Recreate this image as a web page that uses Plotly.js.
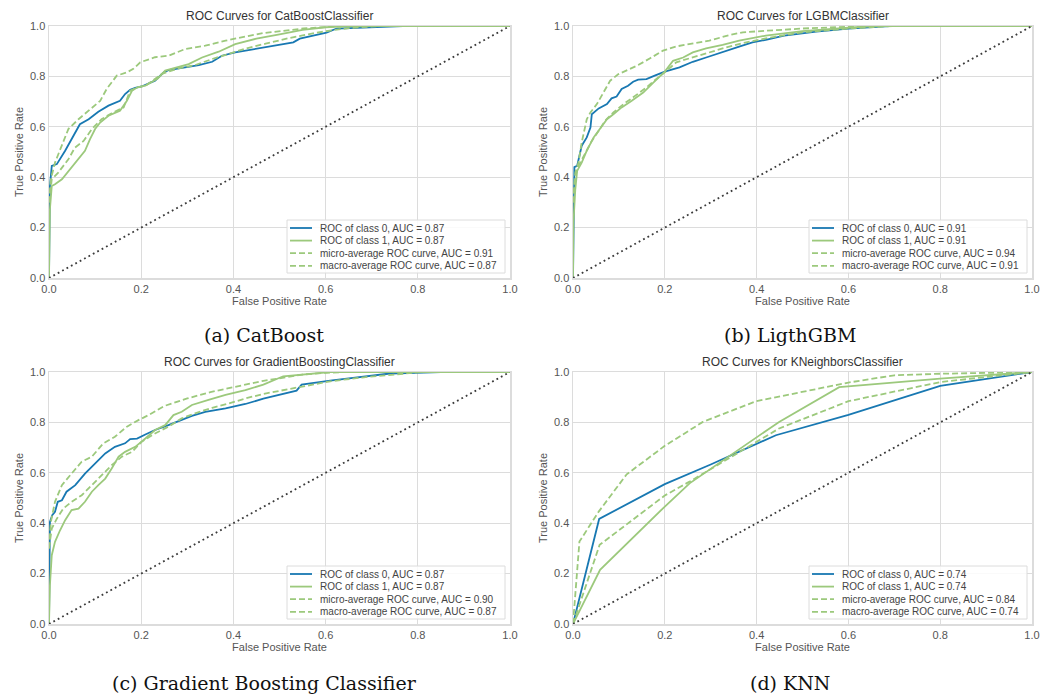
<!DOCTYPE html>
<html><head><meta charset="utf-8">
<script src="https://cdn.plot.ly/plotly-3.0.1.min.js"></script>
<style>html,body{margin:0;padding:0;background:#fff;}#chart{width:1045px;height:698px;}</style>
</head><body><div id="chart"></div>
<script>
// ---------- labels ----------
const plotTitles = ["ROC Curves for CatBoostClassifier", "ROC Curves for LGBMClassifier",
  "ROC Curves for GradientBoostingClassifier", "ROC Curves for KNeighborsClassifier"];
const captions = ["(a) CatBoost", "(b) LigthGBM", "(c) Gradient Boosting Classifier", "(d) KNN"];
const curveNames = ["ROC of class 0", "ROC of class 1", "micro-average ROC curve", "macro-average ROC curve"];
const tickVals = [0, 0.2, 0.4, 0.6, 0.8, 1.0];
const tickText = ["0.0", "0.2", "0.4", "0.6", "0.8", "1.0"];
const diagX = [0, 1];
const diagY = [0, 1];

// ---------- AUC values ----------
const catAuc = [0.87, 0.87, 0.91, 0.87];
const lgbmAuc = [0.91, 0.91, 0.94, 0.91];
const gbAuc = [0.87, 0.87, 0.90, 0.87];
const knnAuc = [0.74, 0.74, 0.84, 0.74];

// ---------- CatBoost ----------
const catC0Fpr = [0, 0.002, 0.006, 0.017, 0.035, 0.056, 0.067, 0.086, 0.107, 0.129, 0.154, 0.165, 0.176, 0.187, 0.201, 0.23, 0.249, 0.259, 0.296, 0.325, 0.354, 0.375, 0.404, 0.465, 0.53, 0.544, 0.602, 0.624, 0.718, 0.768, 1];
const catC0Tpr = [0, 0.365, 0.445, 0.452, 0.505, 0.577, 0.61, 0.63, 0.66, 0.684, 0.703, 0.73, 0.747, 0.754, 0.76, 0.783, 0.816, 0.825, 0.836, 0.845, 0.858, 0.882, 0.895, 0.915, 0.935, 0.95, 0.974, 0.99, 0.997, 1, 1];
const catC1Fpr = [0, 0.002, 0.006, 0.013, 0.028, 0.046, 0.06, 0.078, 0.089, 0.1, 0.111, 0.129, 0.154, 0.169, 0.18, 0.191, 0.209, 0.236, 0.252, 0.277, 0.303, 0.332, 0.368, 0.404, 0.45, 0.5, 0.55, 0.6, 0.65, 1];
const catC1Tpr = [0, 0.273, 0.365, 0.372, 0.392, 0.432, 0.465, 0.505, 0.551, 0.591, 0.617, 0.644, 0.664, 0.703, 0.743, 0.756, 0.763, 0.792, 0.823, 0.836, 0.849, 0.875, 0.898, 0.928, 0.95, 0.967, 0.985, 0.995, 1, 1];
const catMicroFpr = [0, 0.004, 0.013, 0.028, 0.042, 0.064, 0.086, 0.111, 0.125, 0.147, 0.169, 0.183, 0.198, 0.23, 0.259, 0.296, 0.339, 0.383, 0.426, 0.465, 0.552, 0.61, 0.72, 1];
const catMicroTpr = [0.3, 0.392, 0.458, 0.524, 0.591, 0.63, 0.664, 0.703, 0.75, 0.803, 0.816, 0.83, 0.856, 0.876, 0.882, 0.909, 0.922, 0.942, 0.958, 0.972, 0.99, 0.997, 1, 1];
const catMacroFpr = [0, 0.006, 0.02, 0.042, 0.056, 0.075, 0.093, 0.114, 0.136, 0.162, 0.176, 0.191, 0.209, 0.245, 0.281, 0.317, 0.354, 0.39, 0.426, 0.47, 0.52, 0.57, 0.62, 0.67, 0.72, 1];
const catMacroTpr = [0.3, 0.392, 0.418, 0.471, 0.517, 0.544, 0.591, 0.63, 0.654, 0.677, 0.743, 0.756, 0.763, 0.81, 0.832, 0.845, 0.869, 0.889, 0.91, 0.93, 0.952, 0.97, 0.985, 0.995, 1, 1];

// ---------- LGBM ----------
const lgbmC0Fpr = [0, 0.003, 0.009, 0.014, 0.019, 0.03, 0.038, 0.041, 0.056, 0.074, 0.084, 0.095, 0.106, 0.12, 0.131, 0.142, 0.16, 0.178, 0.2, 0.232, 0.261, 0.29, 0.326, 0.362, 0.391, 0.42, 0.46, 0.53, 0.6, 0.69, 1];
const lgbmC0Tpr = [0, 0.44, 0.445, 0.485, 0.525, 0.558, 0.597, 0.65, 0.673, 0.69, 0.713, 0.72, 0.75, 0.763, 0.779, 0.787, 0.789, 0.803, 0.819, 0.836, 0.858, 0.875, 0.898, 0.918, 0.935, 0.945, 0.962, 0.978, 0.99, 1, 1];
const lgbmC1Fpr = [0, 0.001, 0.005, 0.009, 0.019, 0.03, 0.045, 0.059, 0.074, 0.088, 0.106, 0.128, 0.153, 0.175, 0.2, 0.218, 0.24, 0.261, 0.29, 0.326, 0.362, 0.42, 0.5, 0.6, 0.65, 1];
const lgbmC1Tpr = [0, 0.22, 0.352, 0.425, 0.458, 0.505, 0.558, 0.591, 0.63, 0.65, 0.677, 0.703, 0.736, 0.775, 0.819, 0.862, 0.875, 0.895, 0.911, 0.925, 0.942, 0.962, 0.98, 0.993, 1, 1];
const lgbmMicroFpr = [0, 0.005, 0.012, 0.019, 0.03, 0.038, 0.052, 0.066, 0.081, 0.099, 0.124, 0.142, 0.168, 0.196, 0.225, 0.261, 0.297, 0.341, 0.37, 0.42, 0.5, 0.6, 0.7, 1];
const lgbmMicroTpr = [0.3, 0.418, 0.458, 0.538, 0.63, 0.657, 0.69, 0.736, 0.783, 0.809, 0.829, 0.845, 0.872, 0.902, 0.919, 0.932, 0.942, 0.964, 0.975, 0.981, 0.99, 0.997, 1, 1];
const lgbmMacroFpr = [0, 0.005, 0.012, 0.027, 0.041, 0.056, 0.07, 0.088, 0.11, 0.131, 0.16, 0.181, 0.2, 0.225, 0.254, 0.29, 0.326, 0.37, 0.42, 0.5, 0.6, 0.7, 1];
const lgbmMacroTpr = [0.3, 0.405, 0.445, 0.498, 0.544, 0.584, 0.624, 0.657, 0.69, 0.717, 0.756, 0.789, 0.816, 0.856, 0.872, 0.893, 0.911, 0.932, 0.951, 0.975, 0.99, 1, 1];

// ---------- Gradient Boosting ----------
const gbC0Fpr = [0, 0.002, 0.007, 0.013, 0.019, 0.028, 0.038, 0.057, 0.078, 0.1, 0.122, 0.143, 0.165, 0.176, 0.191, 0.209, 0.23, 0.259, 0.288, 0.31, 0.339, 0.383, 0.426, 0.465, 0.537, 0.548, 0.61, 0.683, 0.74, 0.85, 1];
const gbC0Tpr = [0, 0.405, 0.432, 0.445, 0.485, 0.491, 0.525, 0.551, 0.597, 0.637, 0.677, 0.703, 0.717, 0.734, 0.736, 0.752, 0.77, 0.789, 0.809, 0.826, 0.842, 0.856, 0.873, 0.894, 0.926, 0.95, 0.966, 0.983, 0.994, 1, 1];
const gbC1Fpr = [0, 0.002, 0.006, 0.013, 0.024, 0.035, 0.049, 0.064, 0.078, 0.093, 0.107, 0.122, 0.136, 0.151, 0.165, 0.187, 0.209, 0.23, 0.252, 0.27, 0.288, 0.31, 0.346, 0.383, 0.426, 0.465, 0.508, 0.573, 0.61, 1];
const gbC1Tpr = [0, 0.154, 0.273, 0.326, 0.372, 0.412, 0.452, 0.458, 0.485, 0.525, 0.551, 0.577, 0.617, 0.664, 0.683, 0.703, 0.736, 0.77, 0.789, 0.829, 0.842, 0.869, 0.889, 0.909, 0.928, 0.95, 0.983, 0.992, 1, 1];
const gbMicroFpr = [0, 0.004, 0.013, 0.028, 0.049, 0.071, 0.093, 0.118, 0.143, 0.169, 0.194, 0.216, 0.25, 0.3, 0.35, 0.4, 0.426, 0.465, 0.5, 0.55, 0.6, 0.65, 1];
const gbMicroTpr = [0.3, 0.405, 0.485, 0.551, 0.597, 0.644, 0.664, 0.717, 0.743, 0.783, 0.809, 0.829, 0.865, 0.895, 0.92, 0.94, 0.95, 0.965, 0.975, 0.99, 0.997, 1, 1];
const gbMacroFpr = [0, 0.006, 0.017, 0.031, 0.049, 0.071, 0.093, 0.114, 0.136, 0.158, 0.18, 0.201, 0.23, 0.259, 0.288, 0.317, 0.354, 0.39, 0.426, 0.465, 0.537, 0.61, 0.683, 0.755, 0.81, 1];
const gbMacroTpr = [0.3, 0.379, 0.418, 0.458, 0.485, 0.511, 0.551, 0.591, 0.63, 0.664, 0.683, 0.723, 0.756, 0.783, 0.816, 0.836, 0.858, 0.875, 0.895, 0.913, 0.939, 0.963, 0.979, 0.992, 1, 1];

// ---------- KNN ----------
const knnC0Fpr = [0, 0.057, 0.2, 0.3, 0.442, 0.6, 0.8, 1];
const knnC0Tpr = [0, 0.417, 0.555, 0.633, 0.749, 0.83, 0.945, 1];
const knnC1Fpr = [0, 0.059, 0.196, 0.254, 0.449, 0.58, 0.8, 1];
const knnC1Tpr = [0, 0.215, 0.459, 0.558, 0.802, 0.94, 0.974, 1];
const knnMicroFpr = [0, 0.014, 0.056, 0.117, 0.2, 0.283, 0.399, 0.6, 0.7, 0.8, 1];
const knnMicroTpr = [0, 0.327, 0.446, 0.594, 0.707, 0.802, 0.884, 0.958, 0.987, 0.993, 1];
const knnMacroFpr = [0, 0.058, 0.2, 0.254, 0.449, 0.6, 0.8, 1];
const knnMacroTpr = [0, 0.314, 0.51, 0.565, 0.776, 0.884, 0.96, 1];

// ---------- assemble ----------
const panelsData = [
  {auc: catAuc, curves: [[catC0Fpr, catC0Tpr], [catC1Fpr, catC1Tpr], [catMicroFpr, catMicroTpr], [catMacroFpr, catMacroTpr]]},
  {auc: lgbmAuc, curves: [[lgbmC0Fpr, lgbmC0Tpr], [lgbmC1Fpr, lgbmC1Tpr], [lgbmMicroFpr, lgbmMicroTpr], [lgbmMacroFpr, lgbmMacroTpr]]},
  {auc: gbAuc, curves: [[gbC0Fpr, gbC0Tpr], [gbC1Fpr, gbC1Tpr], [gbMicroFpr, gbMicroTpr], [gbMacroFpr, gbMacroTpr]]},
  {auc: knnAuc, curves: [[knnC0Fpr, knnC0Tpr], [knnC1Fpr, knnC1Tpr], [knnMicroFpr, knnMicroTpr], [knnMacroFpr, knnMacroTpr]]}
];

const W = 1045, H = 698;
const BLUE = "#1878b2", GREEN = "#9cc97c";
const curveColors = [BLUE, GREEN, GREEN, GREEN];
const curveDash = ["solid", "solid", "6px,3px", "6px,3px"];
const FONT = "Liberation Sans, Arial, sans-serif";
// panel boxes in pixels
const boxes = [
  {l: 49, r: 510, t: 26, b: 278},
  {l: 573, r: 1032, t: 26, b: 278},
  {l: 49, r: 510, t: 372, b: 624},
  {l: 573, r: 1032, t: 372, b: 624}
];
const captionPos = [[264, 335], [790, 335], [264, 683], [790, 683]];
const px = x => x / W;
const py = y => 1 - y / H;

const traces = [];
const layout = {
  width: W, height: H,
  margin: {l: 0, r: 0, t: 0, b: 0},
  paper_bgcolor: "#fff", plot_bgcolor: "#fff",
  showlegend: false,
  font: {family: FONT, color: "#555"},
  shapes: [], annotations: []
};

panelsData.forEach((p, i) => {
  const n = i === 0 ? "" : String(i + 1);
  const xa = "x" + n, ya = "y" + n;
  const bx = boxes[i];
  p.curves.forEach((c, k) => {
    traces.push({
      type: "scatter", mode: "lines", x: c[0], y: c[1],
      xaxis: xa, yaxis: ya,
      name: curveNames[k] + ", AUC = " + p.auc[k].toFixed(2),
      line: {color: curveColors[k], width: 1.8, dash: curveDash[k]},
      hoverinfo: "skip"
    });
  });
  traces.push({
    type: "scatter", mode: "lines", x: diagX, y: diagY, xaxis: xa, yaxis: ya,
    line: {color: "#3a3a3a", width: 1.8, dash: "1.8px,3.2px"}, hoverinfo: "skip"
  });
  const axCommon = {
    range: [0, 1], tickvals: tickVals, ticktext: tickText,
    showgrid: true, gridcolor: "#dcdcdc", gridwidth: 1,
    zeroline: false, showline: true, mirror: true, linecolor: "#dcdcdc", linewidth: 1.5,
    ticks: "", tickfont: {size: 11, color: "#555", family: FONT}, fixedrange: true
  };
  layout["xaxis" + n] = Object.assign({}, axCommon, {
    domain: [px(bx.l), px(bx.r)], anchor: ya,
    title: {text: "False Positive Rate", font: {size: 11, color: "#555", family: FONT}, standoff: 2}
  });
  layout["yaxis" + n] = Object.assign({}, axCommon, {
    domain: [py(bx.b), py(bx.t)], anchor: xa,
    title: {text: "True Positive Rate", font: {size: 11, color: "#555", family: FONT}, standoff: 4}
  });
  // subplot title
  layout.annotations.push({
    xref: "paper", yref: "paper", x: px((bx.l + bx.r) / 2), y: py(bx.t - 10),
    text: plotTitles[i], showarrow: false, xanchor: "center", yanchor: "middle",
    font: {size: 12, color: "#333", family: FONT}
  });
  // caption
  layout.annotations.push({
    xref: "paper", yref: "paper", x: px(captionPos[i][0]), y: py(captionPos[i][1]),
    text: captions[i], showarrow: false, xanchor: "center", yanchor: "middle",
    font: {size: 19, color: "#111", family: "DejaVu Serif, Liberation Serif, serif"}
  });
  // legend box (drawn manually to match compact matplotlib legend)
  const R = bx.r, B = bx.b;
  layout.shapes.push({
    type: "rect", xref: "paper", yref: "paper",
    x0: px(R - 223), x1: px(R - 5), y0: py(B - 5), y1: py(B - 58),
    line: {color: "#dcdcdc", width: 1}, fillcolor: "rgba(255,255,255,0.85)", layer: "above"
  });
  p.curves.forEach((c, k) => {
    const rowY = B - 50 + k * 12.6;
    layout.shapes.push({
      type: "line", xref: "paper", yref: "paper",
      x0: px(R - 220), x1: px(R - 198), y0: py(rowY), y1: py(rowY),
      line: {color: curveColors[k], width: 1.8, dash: curveDash[k]}, layer: "above"
    });
    layout.annotations.push({
      xref: "paper", yref: "paper", x: px(R - 192), y: py(rowY),
      text: curveNames[k] + ", AUC = " + p.auc[k].toFixed(2),
      showarrow: false, xanchor: "left", yanchor: "middle",
      font: {size: 10, color: "#444", family: FONT}
    });
  });
});

Plotly.newPlot("chart", traces, layout, {displayModeBar: false, staticPlot: true});
</script>
</body></html>
